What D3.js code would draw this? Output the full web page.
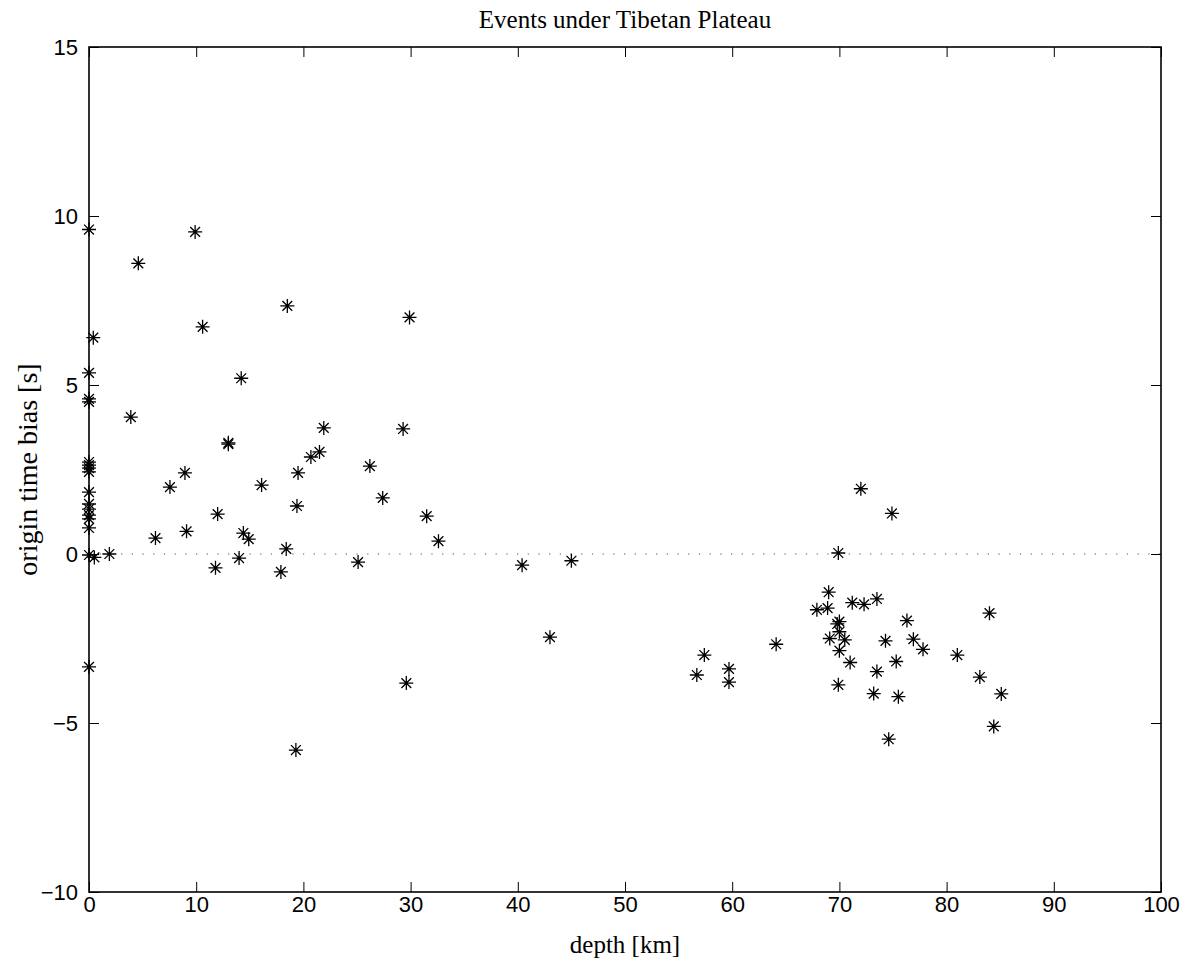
<!DOCTYPE html>
<html>
<head>
<meta charset="utf-8">
<script src="https://cdn.jsdelivr.net/npm/d3@7"></script>
<style>
  body { margin: 0; background: #fff; }
  .tick text { font-family: "Liberation Sans", Arial, sans-serif; font-size: 22px; fill: #000; }
  .lbl { font-family: "Liberation Serif", "Times New Roman", serif; font-size: 25px; fill: #000; }
</style>
</head>
<body>
<div id="chart"></div>
<script>
// depth [km] of each event
const depth = [
  0, 0.4, 0, 0, 0, 0, 0, 0, 0, 0, 0, 0, 0, 0, 0, 0, 0.5, 1.9, 0,
  7.55, 8.95, 6.2, 9.1, 4.6, 3.9, 9.9,
  10.6, 18.5, 14.2, 13.0, 13.0, 21.9, 21.5, 20.7, 19.5, 26.2,
  16.1, 19.4, 12.0, 14.4, 14.9, 18.4, 14.0, 11.8, 17.9, 19.3,
  25.1, 27.4, 29.3, 29.9, 29.6, 31.5, 32.6,
  40.4, 43.0, 45.0,
  56.7, 57.4, 59.7, 59.7, 64.1,
  69.0, 67.9, 68.9, 71.2, 72.3, 73.5, 70.0, 69.8, 70.0, 69.1, 70.5, 70.0,
  71.0, 69.9, 74.3, 76.3, 76.9, 77.8, 75.3, 73.5, 73.2, 75.5, 74.6,
  69.9, 72.0, 74.9,
  81.0, 83.1, 84.0, 84.4, 85.1
];

// origin time bias [s] of each event
const bias = [
  9.6, 6.4, 5.36, 4.59, 4.5, 2.72, 2.63, 2.54, 2.43, 1.83, 1.48, 1.33, 1.15, 1.04, 0.77, -0.03, -0.1, 0.0, -3.34,
  1.98, 2.4, 0.47, 0.67, 8.6, 4.05, 9.53,
  6.72, 7.34, 5.2, 3.25, 3.29, 3.73, 3.02, 2.87, 2.4, 2.6,
  2.04, 1.42, 1.18, 0.62, 0.44, 0.15, -0.12, -0.41, -0.53, -5.8,
  -0.24, 1.66, 3.7, 7.0, -3.82, 1.12, 0.38,
  -0.33, -2.46, -0.2,
  -3.58, -2.99, -3.4, -3.79, -2.67,
  -1.13, -1.65, -1.6, -1.44, -1.49, -1.33, -2.0, -2.07, -2.3, -2.5, -2.54, -2.86,
  -3.21, -3.87, -2.57, -1.97, -2.52, -2.82, -3.18, -3.48, -4.13, -4.22, -5.48,
  0.03, 1.93, 1.2,
  -2.99, -3.64, -1.75, -5.1, -4.14
];

const xTicks = d3.range(0, 101, 10);
const yTicks = [-10, -5, 0, 5, 10, 15];

const width = 1190;
const height = 963;
const margin = { top: 47, right: 29, bottom: 71, left: 89 };
const innerW = width - margin.left - margin.right;
const innerH = height - margin.top - margin.bottom;

const svg = d3.select("#chart")
  .append("svg")
  .attr("width", width)
  .attr("height", height);

const g = svg.append("g")
  .attr("transform", `translate(${margin.left},${margin.top})`);

const x = d3.scaleLinear().domain([0, 100]).range([0, innerW]);
const y = d3.scaleLinear().domain([-10, 15]).range([innerH, 0]);

// zero reference line (dotted)
g.append("line")
  .attr("x1", x(0)).attr("x2", x(100))
  .attr("y1", y(0)).attr("y2", y(0))
  .attr("stroke", "#555")
  .attr("stroke-width", 1.2)
  .attr("stroke-dasharray", "1.2,9.5");

// axes with inward ticks, mirrored on top and right like matlab box
const tickLen = 10;
g.append("g")
  .attr("transform", `translate(0,${innerH})`)
  .call(d3.axisBottom(x).tickValues(xTicks).tickSizeInner(-tickLen).tickSizeOuter(0))
  .call(a => a.selectAll(".tick text").attr("y", 3).attr("dy", "0.75em"));
g.append("g")
  .call(d3.axisTop(x).tickValues(xTicks).tickSizeInner(-tickLen).tickSizeOuter(0).tickFormat(""));
g.append("g")
  .call(d3.axisLeft(y).tickValues(yTicks).tickSizeInner(-tickLen).tickSizeOuter(0))
  .call(a => a.selectAll(".tick text").attr("x", -11));
g.append("g")
  .attr("transform", `translate(${innerW},0)`)
  .call(d3.axisRight(y).tickValues(yTicks).tickSizeInner(-tickLen).tickSizeOuter(0).tickFormat(""));

g.selectAll(".domain").remove();
g.selectAll(".tick line").attr("stroke", "#000").attr("stroke-width", 1);

// box
g.append("rect")
  .attr("width", innerW)
  .attr("height", innerH)
  .attr("fill", "none")
  .attr("stroke", "#000")
  .attr("stroke-width", 1.6);

// star markers ('*')
const r = 7;
const star = `M${-r},0H${r}M0,${-r}V${r}` +
  `M${-r * 0.7},${-r * 0.7}L${r * 0.7},${r * 0.7}M${-r * 0.7},${r * 0.7}L${r * 0.7},${-r * 0.7}`;

g.selectAll("path.pt")
  .data(depth)
  .join("path")
  .attr("class", "pt")
  .attr("d", star)
  .attr("transform", (d, i) => `translate(${x(d)},${y(bias[i])})`)
  .attr("stroke", "#000")
  .attr("stroke-width", 1.3)
  .attr("fill", "none");

// title and labels
svg.append("text")
  .attr("class", "lbl")
  .attr("x", margin.left + innerW / 2)
  .attr("y", 28)
  .attr("text-anchor", "middle")
  .text("Events under Tibetan Plateau");

svg.append("text")
  .attr("class", "lbl")
  .attr("x", margin.left + innerW / 2)
  .attr("y", 953)
  .attr("text-anchor", "middle")
  .text("depth [km]");

svg.append("text")
  .attr("class", "lbl")
  .style("font-size", "28px")
  .attr("transform", `translate(37,${margin.top + innerH / 2}) rotate(-90)`)
  .attr("text-anchor", "middle")
  .text("origin time bias [s]");
</script>
</body>
</html>
